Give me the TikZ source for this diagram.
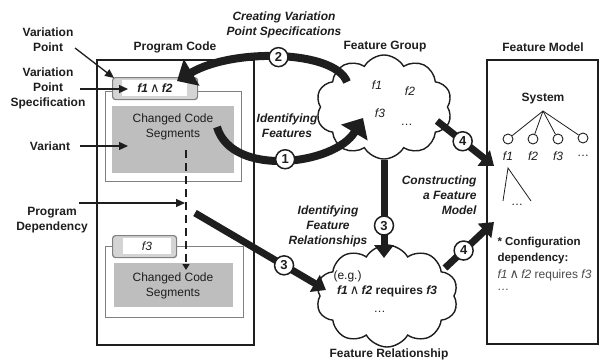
\documentclass[tikz,border=0pt]{standalone}
\usepackage{fontspec}
\setmainfont{Liberation Sans}
\newfontfamily\andfont{DejaVu Sans}
\usetikzlibrary{arrows.meta,shapes.symbols,calc}

\definecolor{ink}{HTML}{1E1E1E}
\definecolor{segfill}{HTML}{BEBEBE}
\definecolor{tabfill}{HTML}{D4D4D4}
\definecolor{frame}{HTML}{808080}
\definecolor{note}{HTML}{4A4A4A}

% base text size of the figure
\newcommand{\basesize}{\fontsize{12}{15}\selectfont}
% logical "and" sign between feature names
\newcommand{\andop}{{\andfont\mdseries\upshape\fontsize{13}{13}\selectfont\,∧\,}}

\tikzset{
  box/.style={draw=ink, line width=1.6pt, inner sep=0pt, anchor=north west},
  inbox/.style={draw=frame, line width=1.4pt, inner sep=0pt, anchor=north west},
  segbox/.style={fill=segfill, inner sep=0pt, anchor=north west},
  tabbox/.style={fill=tabfill, draw=frame, line width=1.2pt, rounded corners=3pt, inner sep=0pt, anchor=north west},
  tabin/.style={fill=white, inner sep=0pt, anchor=north west},
  heading/.style={font=\basesize\bfseries},
  sidelabel/.style={align=center, font=\basesize\bfseries},
  task/.style={align=center, font=\basesize\bfseries\itshape},
  feat/.style={font=\basesize\itshape},
  thinarrow/.style={draw=ink, line width=1.3pt, -{Triangle[length=9pt,width=8pt]}},
  flowarrow/.style={draw=ink, line width=7pt, -{Triangle[length=13pt,width=19pt]}},
  bendarrow/.style={draw=ink, line width=8pt, -{Triangle[length=17pt,width=30pt]}},
  num/.style={circle, draw=ink, fill=white, line width=1.5pt, minimum size=19pt, inner sep=0pt, font=\fontsize{13}{13}\selectfont\bfseries},
  blob/.style={cloud, draw=ink, fill=white, line width=1.4pt, cloud puffs=10, cloud puff arc=120, aspect=1.35, inner sep=0pt},
  leaf/.style={circle, draw=ink, line width=0.9pt, minimum size=10pt, inner sep=0pt},
}

\begin{document}
\begin{tikzpicture}[x=1pt, y=-1pt, font=\basesize, text=ink]
\fill[white] (0,0) rectangle (603,364);
\path[use as bounding box] (0,0) rectangle (603,364);

% ---------- headings ----------
\node[heading] (hpc) at (175,47) {Program Code};
\node[heading] (hfg) at (385,47) {Feature Group};
\node[heading] (hfm) at (543,47) {Feature Model};
\node[heading] (hfr) at (389,354) {Feature Relationship};

% ---------- program code ----------
\node[box, minimum width=157pt, minimum height=285pt] (pc) at (96,59) {};

\node[inbox, minimum width=136pt, minimum height=90pt] (v1) at (105,91) {};
\node[segbox, minimum width=122pt, minimum height=67pt] (s1) at (112,106) {};
\node[align=center] (s1t) at (173,126.5) {Changed Code\\Segments};
\node[tabbox, minimum width=85pt, minimum height=22pt] (tab1) at (112,77) {};
\node[tabin, minimum width=65pt, minimum height=16pt] (w1) at (122,80) {};
\node[font=\basesize\bfseries\itshape] (vp1) at (155,88) {f1\andop f2};

\node[inbox, minimum width=138pt, minimum height=71pt] (v2) at (105,246) {};
\node[segbox, minimum width=119pt, minimum height=44pt] (s2) at (114,263) {};
\node[align=center] (s2t) at (173,285.5) {Changed Code\\Segments};
\node[tabbox, minimum width=64pt, minimum height=22pt] (tab2) at (112,235) {};
\node[tabin, minimum width=48pt, minimum height=16pt] (w2) at (123,238) {};
\node[feat] (vp2) at (147,246) {f3};

% program dependency between the two variants
\coordinate (dtop) at (186,150);
\coordinate (dbot) at (186,270);
\draw[ink, line width=1.3pt, dash pattern=on 8pt off 5pt, -{Triangle[length=6pt,width=7pt]}] (dtop) -- (dbot);

% ---------- side labels ----------
\node[sidelabel] (lvp) at (48,40) {Variation\\Point};
\node[sidelabel] (lvps) at (48,88) {Variation\\Point\\Specification};
\node[sidelabel] (lvar) at (50,146) {Variant};
\node[sidelabel] (lpd) at (52,220) {Program\\Dependency};

\coordinate (vpstart) at (75,48);
\draw[thinarrow] (vpstart) -- ([xshift=2pt,yshift=-1pt]tab1.north west);
\coordinate (vpsstart) at (80,89);
\draw[thinarrow] (vpsstart) -- ([xshift=6pt]vpsstart -| w1.west);
\coordinate (varstart) at (80,146);
\draw[thinarrow] (varstart) -- ([xshift=16pt]varstart -| s1.west);
\coordinate (pdstart) at (79,203);
\draw[thinarrow] (pdstart) -- ([xshift=-1pt]pdstart -| dtop);

% ---------- feature group / feature relationship ----------
\node[blob, minimum width=136pt, minimum height=104pt] (fg) at (384,107) {};
\node[feat] (g1) at (377,85) {f1};
\node[feat] (g2) at (410,91) {f2};
\node[feat] (g3) at (380,113) {f3};
\node[feat] (g4) at (407,125) {…};

\node[blob, minimum width=142pt, minimum height=102pt] (fr) at (387,296) {};
\node[anchor=west] (eg) at (330,276) {(e.g.)};
\node[font=\basesize\bfseries] (rel) at (387,291) {\itshape f1\andop f2 \upshape requires \itshape f3};
\node[feat] (reldots) at (380,312) {…};

% ---------- feature model ----------
\node[box, minimum width=111pt, minimum height=284pt] (fm) at (486,59) {};
\node[heading] (sys) at (543,99) {System};
\coordinate (root) at (543,111);
\node[leaf] (lf1) at (508,139) {};
\node[leaf] (lf2) at (533,139) {};
\node[leaf] (lf3) at (558,139) {};
\node[leaf] (lf4) at (583,138) {};
\foreach \k in {1,2,3,4} \draw[ink, line width=0.8pt] (root) -- (lf\k);
\node[feat] (tf1) at (508,156) {f1};
\node[feat] (tf2) at (533,156) {f2};
\node[feat] (tf3) at (558,156) {f3};
\node (tf4) at (583,156) {…};
\coordinate (apex) at (508,168);
\coordinate (legl) at (503,201);
\coordinate (legr) at (531,201);
\draw[ink, line width=0.8pt] (legl) -- (apex) -- (legr);
\node (subdots) at (517,205) {…};

\node[anchor=west, font=\fontsize{11.5}{13}\selectfont\bfseries] (cf1) at (494,243) {* Configuration};
\node[anchor=west, font=\fontsize{11.5}{13}\selectfont\bfseries] (cf2) at (494,259) {dependency:};
\node[anchor=west, text=note] (cf3) at (494,275) {\itshape f1\andop f2\upshape\ requires \itshape f3};
\node[anchor=west, text=note, feat] (cf4) at (494,290) {…};

% ---------- task labels ----------
\node[task] (t2) at (284,25) {Creating Variation\\Point Specifications};
\node[task] (t1) at (287,126) {Identifying\\Features};
\node[task] (t3) at (328,226) {Identifying\\Feature\\Relationships};
\node[task, align=right, anchor=east] (t4) at (480,195) {Constructing\\a Feature\\Model};

% ---------- process arrows ----------
\coordinate (a1s) at (217,127);
\coordinate (a1e) at (363,118);
\draw[bendarrow] (a1s) .. controls (232,178) and (335,165) .. (a1e) node[num, pos=0.5] (c1) {1};

\coordinate (a2s) at (347,82);
\coordinate (a2e) at (177,81);
\draw[bendarrow] (a2s) .. controls (335,50) and (233,48) .. (a2e) node[num, pos=0.5] (c2) {2};

\coordinate (a3s) at (195,213);
\coordinate (a3e) at (326,290);
\draw[flowarrow] (a3s) -- (a3e) node[num, pos=0.68] (c3a) {3};

\coordinate (a3be) at (384,258);
\draw[flowarrow] (fg.south) -- (a3be) node[num, pos=0.67] (c3b) {3};

\coordinate (a4as) at (437,121);
\coordinate (a4ae) at (494,166);
\draw[flowarrow] (a4as) -- (a4ae) node[num, pos=0.45] (c4a) {4};

\coordinate (a4bs) at (445,268);
\coordinate (a4be) at (494,222);
\draw[flowarrow] (a4bs) -- (a4be) node[num, pos=0.38] (c4b) {4};
\end{tikzpicture}
\end{document}
